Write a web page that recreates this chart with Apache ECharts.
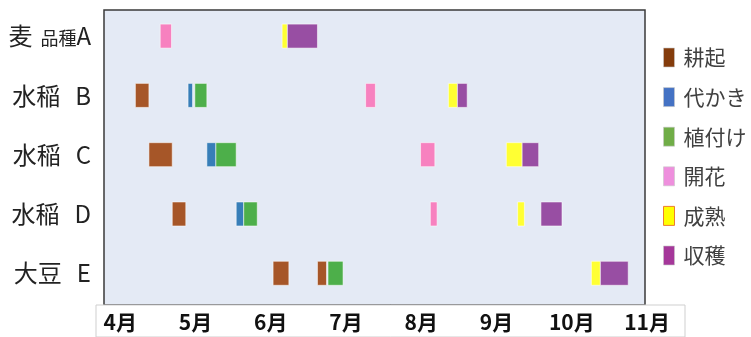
<!DOCTYPE html>
<html><head><meta charset="utf-8">
<script src="https://cdn.jsdelivr.net/npm/echarts@6/dist/echarts.min.js"></script>
<style>html,body{margin:0;padding:0;background:#fff}#c{width:751px;height:337px}</style>
</head><body><div id="c"></div>
<script>
// Categories (rows, top to bottom): [crop, variety]
const categories = ['麦 品種A', '水稲 B', '水稲 C', '水稲 D', '大豆 E'];
// Month tick labels (value 4 = 4月 ... 11 = 11月)
const monthValues = [4, 5, 6, 7, 8, 9, 10, 11];
const monthLabels = ['4月', '5月', '6月', '7月', '8月', '9月', '10月', '11月'];
// Stage names
const stages = ['耕起', '代かき', '植付け', '開花', '成熟', '収穫'];
// Each entry: [rowIndex, start(month), end(month)]
const tillage = [[1, 4.20, 4.38], [2, 4.38, 4.69], [3, 4.69, 4.87], [4, 6.03, 6.24], [4, 6.62, 6.74]];
const puddling = [[1, 4.90, 4.96], [2, 5.15, 5.27], [3, 5.54, 5.64]];
const planting = [[1, 4.99, 5.15], [2, 5.27, 5.54], [3, 5.64, 5.82], [4, 6.76, 6.96]];
const flowering = [[0, 4.53, 4.68], [1, 7.26, 7.39], [2, 7.99, 8.18], [3, 8.12, 8.21]];
const maturity = [[0, 6.15, 6.22], [1, 8.36, 8.48], [2, 9.13, 9.34], [3, 9.28, 9.37], [4, 10.26, 10.38]];
const harvest = [[0, 6.22, 6.62], [1, 8.48, 8.61], [2, 9.34, 9.56], [3, 9.59, 9.87], [4, 10.38, 10.75]];
const stageData = [tillage, puddling, planting, flowering, maturity, harvest];

const barColors = ['#A65628', '#377EB8', '#4DAF4A', '#F781BF', '#FFFF33', '#984EA3'];
const legendColors = ['#843C0C', '#4472C4', '#70AD47', '#EE8FDD', '#FFFF00', '#A5379A'];

const FONT = '"Noto Sans CJK JP", "Noto Sans", sans-serif';

function renderItem(params, api) {
  const y = api.value(0);
  const p0 = api.coord([api.value(1), y]);
  const p1 = api.coord([api.value(2), y]);
  const h = api.size([0, 0.405])[1];
  const rect = echarts.graphic.clipRectByRect(
    { x: p0[0], y: p0[1] - h / 2, width: p1[0] - p0[0], height: h },
    { x: params.coordSys.x, y: params.coordSys.y, width: params.coordSys.width, height: params.coordSys.height }
  );
  return rect && {
    type: 'rect', shape: rect,
    style: Object.assign(api.style(), { stroke: 'rgba(255,255,255,0.55)', lineWidth: 1 })
  };
}

function catLabel(v) {
  const i = Math.round(v);
  const c = categories[i];
  if (!c) return '';
  const parts = c.split(' ');
  if (i === 0) {
    const m = parts[1].match(/^(\D+)(\w)$/);
    return '{b|' + parts[0] + '}{s|' + m[1] + '}{b|' + m[2] + '}';
  }
  return '{b|' + parts[0] + '}{v|' + parts[1] + '}';
}

const chart = echarts.init(document.getElementById('c'), null, { renderer: 'canvas' });
chart.setOption({
  animation: false,
  backgroundColor: '#ffffff',
  grid: [
    { left: 104, right: 106, top: 10, bottom: 32, show: true, backgroundColor: '#E4EAF5', borderColor: '#3a3a3a', borderWidth: 1.5 },
    { left: 96, right: 66, top: 305, bottom: -3, show: true, backgroundColor: '#ffffff', borderColor: '#cfcfcf', borderWidth: 1 }
  ],
  xAxis: [
    { type: 'value', gridIndex: 0, min: 3.783, max: 10.973, show: false, splitLine: { show: false } },
    { type: 'value', gridIndex: 1, min: 3.677, max: 11.504, position: 'top', z: 10,
      axisLine: { show: false }, axisTick: { show: false }, splitLine: { show: false },
      axisLabel: { inside: true, margin: 7, customValues: monthValues,
        formatter: v => monthLabels[monthValues.indexOf(Math.round(v))] || '',
        fontFamily: FONT, fontSize: 21, fontWeight: 'bold', color: '#111', lineHeight: 21 } }
  ],
  yAxis: [
    { type: 'value', gridIndex: 0, inverse: true, min: -0.440, max: 4.535,
      axisLine: { show: false }, axisTick: { show: false }, splitLine: { show: false },
      axisLabel: { margin: 13, customValues: [0, 1, 2, 3, 4],
        formatter: catLabel,
        rich: {
          b: { fontFamily: FONT, fontSize: 24, color: '#222' },
          v: { fontFamily: FONT, fontSize: 24, color: '#222', padding: [0, 0, 0, 15] },
          s: { fontFamily: FONT, fontSize: 18, color: '#222', padding: [5, 0, 0, 8] }
        } } },
    { type: 'value', gridIndex: 1, show: false }
  ],
  legend: {
    orient: 'vertical', left: 663, top: 47, padding: 0, itemWidth: 11, itemHeight: 19, itemGap: 18.6,
    icon: 'rect',
    textStyle: { fontFamily: FONT, fontSize: 21, color: '#404040', lineHeight: 20, padding: [0, 0, 0, 4] },
    data: stages.map((s, i) => ({
      name: s,
      itemStyle: { color: legendColors[i], borderColor: i === 4 ? '#ED7D31' : 'rgba(200,200,200,0.6)', borderWidth: 1 }
    }))
  },
  series: stages.map((s, i) => ({
    type: 'custom', name: s, xAxisIndex: 0, yAxisIndex: 0,
    renderItem, itemStyle: { color: barColors[i] },
    encode: { x: [1, 2], y: 0 }, data: stageData[i], z: 5
  }))
});
</script></body></html>
